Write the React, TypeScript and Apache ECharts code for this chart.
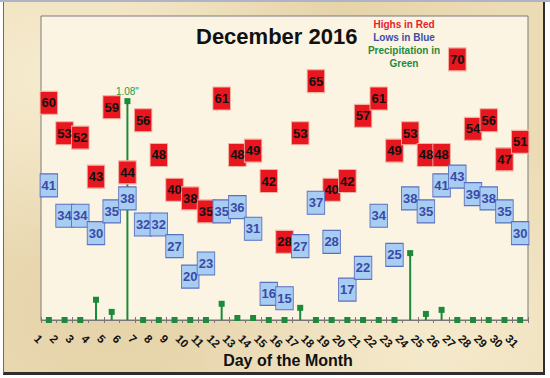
import React, { useEffect, useRef } from "react";
import * as echarts from "echarts";

const days = ["1","2","3","4","5","6","7","8","9","10","11","12","13","14","15","16","17","18","19","20","21","22","23","24","25","26","27","28","29","30","31"];
const highs = [60,53,52,43,59,44,56,48,40,38,35,61,48,49,42,28,53,65,40,42,57,61,49,53,48,48,70,54,56,47,51];
const lows = [41,34,34,30,35,38,32,32,27,20,23,35,36,31,16,15,27,37,28,17,22,34,25,38,35,41,43,39,38,35,30];
const precip = [0,0,0,0.10,0.04,1.08,0,0,0,0,0,0.08,0.01,0.01,0,0,0.06,0,0,0,0,0,0,0.33,0.03,0.05,0,0,0,0,0];
const legendLines = [
  { text: "Highs in Red", color: "#e3222b" },
  { text: "Lows in Blue", color: "#3b4ea6" },
  { text: "Precipitation in", color: "#1f8a3c" },
  { text: "Green", color: "#1f8a3c" },
];

const FONT = "'Liberation Sans', Arial, sans-serif";
const GREEN = "#1b8a3a";

export default function App() {
  const ref = useRef<HTMLDivElement>(null);
  useEffect(() => {
    if (!ref.current) return;
    const chart = echarts.init(ref.current, undefined, { renderer: "svg" });
    const maxP = Math.max(...precip);
    chart.setOption({
      animation: false,
      backgroundColor: "transparent",
      title: {
        text: "December 2016",
        left: 196,
        top: 25,
        padding: 0,
        textStyle: { fontFamily: FONT, fontWeight: "bold", fontSize: 22, color: "#111" },
      },
      graphic: legendLines.map((l, i) => ({
        type: "text",
        x: 404,
        y: 24 + i * 13,
        style: {
          text: l.text,
          fill: l.color,
          font: `bold 10px ${FONT}`,
          textAlign: "center",
          textVerticalAlign: "middle",
        },
      })),
      grid: {
        left: 41,
        top: 16,
        right: 22,
        bottom: 58,
        show: true,
        backgroundColor: "#fcf4e2",
        borderColor: "#7a7a7a",
        borderWidth: 1,
      },
      xAxis: [
        {
          type: "category",
          data: days,
          boundaryGap: true,
          axisLine: { lineStyle: { color: "#777", width: 1 } },
          axisTick: { show: true, length: 3, lineStyle: { color: "#777" } },
          axisLabel: {
            interval: 0,
            rotate: -45,
            margin: 4,
            align: "left",
            verticalAlign: "top",
            padding: [12, 0, 0, 0],
            fontFamily: FONT,
            fontWeight: "bold",
            fontSize: 11.5,
            color: "#111",
          },
          name: "Day of the Month",
          nameLocation: "middle",
          nameGap: 32,
          nameMoveOverlap: false,
          nameTextStyle: { fontFamily: FONT, fontWeight: "bold", fontSize: 16, color: "#111", padding: [0, 0, 0, 7] },
        },
        {
          type: "category",
          data: days,
          boundaryGap: true,
          position: "bottom",
          axisLine: { show: false },
          axisTick: { show: true, inside: true, length: 3, lineStyle: { color: "#777" } },
          axisLabel: { show: false },
        },
      ],
      yAxis: [
        { type: "value", min: 10, max: 80, show: false, splitLine: { show: false } },
        { type: "value", min: 0, max: 1.5, show: false, splitLine: { show: false } },
      ],
      series: [
        {
          type: "bar",
          data: precip,
          yAxisIndex: 1,
          barWidth: 2,
          itemStyle: { color: GREEN, opacity: 1 },
          z: 1,
        },
        {
          type: "scatter",
          data: precip.map((v) =>
            v === maxP
              ? {
                  value: v,
                  label: {
                    show: true,
                    position: "top",
                    distance: 2,
                    formatter: v.toFixed(2) + '"',
                    color: "#249a50",
                    fontFamily: FONT,
                    fontSize: 10,
                  },
                }
              : v
          ),
          yAxisIndex: 1,
          symbol: "rect",
          symbolSize: 6,
          itemStyle: { color: GREEN, opacity: 1 },
          z: 2,
        },
        {
          type: "scatter",
          data: highs,
          symbol: "rect",
          symbolSize: [17.5, 23],
          itemStyle: { color: "#e8161f", borderColor: "#f3b3a3", borderWidth: 1, opacity: 1 },
          label: {
            show: true,
            position: "inside",
            formatter: "{c}",
            color: "#111",
            fontFamily: FONT,
            fontWeight: "bold",
            fontSize: 13,
          },
          z: 3,
        },
        {
          type: "scatter",
          data: lows,
          symbol: "rect",
          symbolSize: [17.5, 23],
          itemStyle: { color: "#a8cdf2", borderColor: "#5a6fc0", borderWidth: 1, opacity: 1 },
          label: {
            show: true,
            position: "inside",
            formatter: "{c}",
            color: "#3a4aa6",
            fontFamily: FONT,
            fontWeight: "bold",
            fontSize: 13,
          },
          z: 4,
        },
      ],
    });
    return () => chart.dispose();
  }, []);

  return (
    <div style={{ position: "fixed", left: 0, top: 0, width: 550, height: 378, background: "#ffffff", overflow: "hidden" }}>
      <div style={{ position: "absolute", left: 0, top: 0, width: 550, height: 2, background: "#aeb3c6" }} />
      <div
        style={{
          position: "absolute",
          left: 3,
          top: 2,
          width: 539,
          height: 370,
          borderLeft: "1px solid #6a6a6a",
          borderRight: "2px solid #2e2e2e",
          borderBottom: "3px solid #2e2e2e",
          background:
            "radial-gradient(ellipse at 10% 20%, rgba(255,248,228,0.55), rgba(255,248,228,0) 45%), radial-gradient(ellipse at 80% 90%, rgba(255,248,228,0.5), rgba(255,248,228,0) 40%), radial-gradient(ellipse at 60% 10%, rgba(214,190,140,0.35), rgba(214,190,140,0) 40%), radial-gradient(ellipse at 20% 85%, rgba(214,190,140,0.3), rgba(214,190,140,0) 45%), #ecdcb6",
        }}
      />
      <div ref={ref} style={{ position: "absolute", left: 0, top: 0, width: 550, height: 378 }} />
    </div>
  );
}
